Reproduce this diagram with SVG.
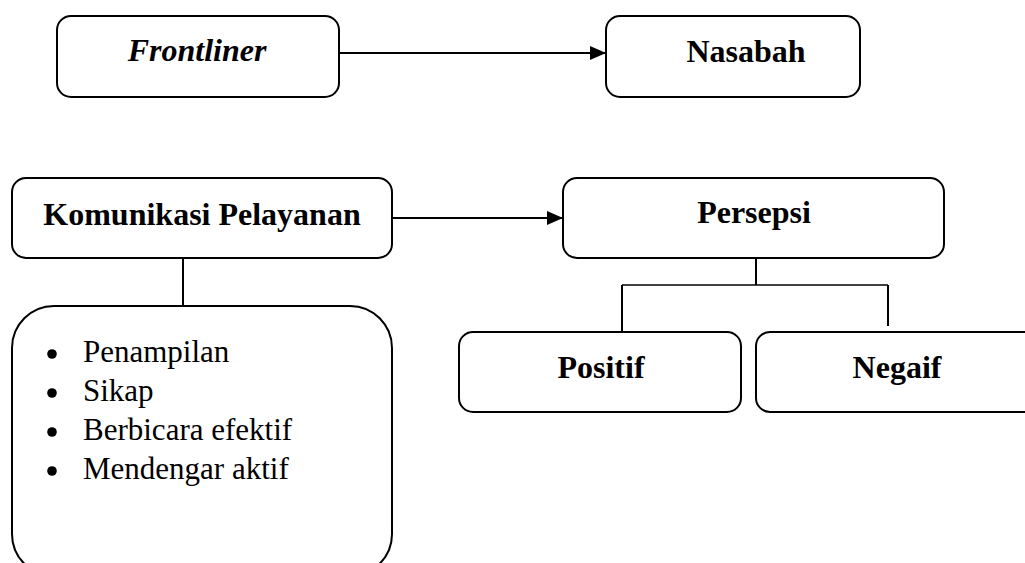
<svg xmlns="http://www.w3.org/2000/svg" width="1025" height="563" viewBox="0 0 1025 563">
<style>
.box{fill:#fff;stroke:#000;stroke-width:2}
.t{font-family:"Liberation Serif","Times New Roman",serif;font-size:32px;font-weight:bold;fill:#000;text-anchor:middle}
.it{font-style:italic}
.li{font-family:"Liberation Serif","Times New Roman",serif;font-size:31px;fill:#000}
.c{stroke:#000;stroke-width:2;fill:none}
.thin{stroke:#000;stroke-width:1.4;fill:none}
</style>
<defs>
<marker id="ah" markerWidth="16" markerHeight="14" refX="15" refY="7" orient="auto" markerUnits="userSpaceOnUse">
<path d="M0,0 L16,7 L0,14 Z" fill="#000"/>
</marker>
</defs>
<rect width="1025" height="563" fill="#fff"/>
<g id="connectors">
<line class="c" x1="339" y1="53" x2="605" y2="53" marker-end="url(#ah)"/>
<line class="c" x1="392" y1="218" x2="562" y2="218" marker-end="url(#ah)"/>
<line class="c" x1="183" y1="258" x2="183" y2="306"/>
<line class="c" x1="756" y1="258" x2="756" y2="285"/>
<line class="thin" x1="622" y1="285" x2="888" y2="285"/>
<line class="c" x1="622" y1="285" x2="622" y2="332"/>
<line class="c" x1="888" y1="285" x2="888" y2="326"/>
</g>
<g id="frontliner">
<rect class="box" x="57" y="16" width="282" height="81" rx="14"/>
<text class="t it" x="197" y="61">Frontliner</text>
</g>
<g id="nasabah">
<rect class="box" x="606" y="16" width="254" height="81" rx="14"/>
<text class="t" x="746" y="62">Nasabah</text>
</g>
<g id="komunikasi">
<rect class="box" x="12" y="178" width="380" height="80" rx="14"/>
<text class="t" x="202" y="225">Komunikasi Pelayanan</text>
</g>
<g id="persepsi">
<rect class="box" x="563" y="178" width="381" height="80" rx="14"/>
<text class="t" x="754" y="223">Persepsi</text>
</g>
<g id="positif">
<rect class="box" x="459" y="332" width="282" height="80" rx="14"/>
<text class="t" x="601" y="378">Positif</text>
</g>
<g id="negaif">
<rect class="box" x="756" y="332" width="290" height="80" rx="14"/>
<text class="t" x="897" y="378">Negaif</text>
</g>
<g id="list">
<rect class="box" x="12" y="306" width="380" height="270" rx="42"/>
<circle cx="52" cy="354" r="4.8"/>
<circle cx="52" cy="393" r="4.8"/>
<circle cx="52" cy="432" r="4.8"/>
<circle cx="52" cy="471" r="4.8"/>
<text class="li" x="83" y="362">Penampilan</text>
<text class="li" x="83" y="401">Sikap</text>
<text class="li" x="83" y="440">Berbicara efektif</text>
<text class="li" x="83" y="479">Mendengar aktif</text>
</g>
</svg>
